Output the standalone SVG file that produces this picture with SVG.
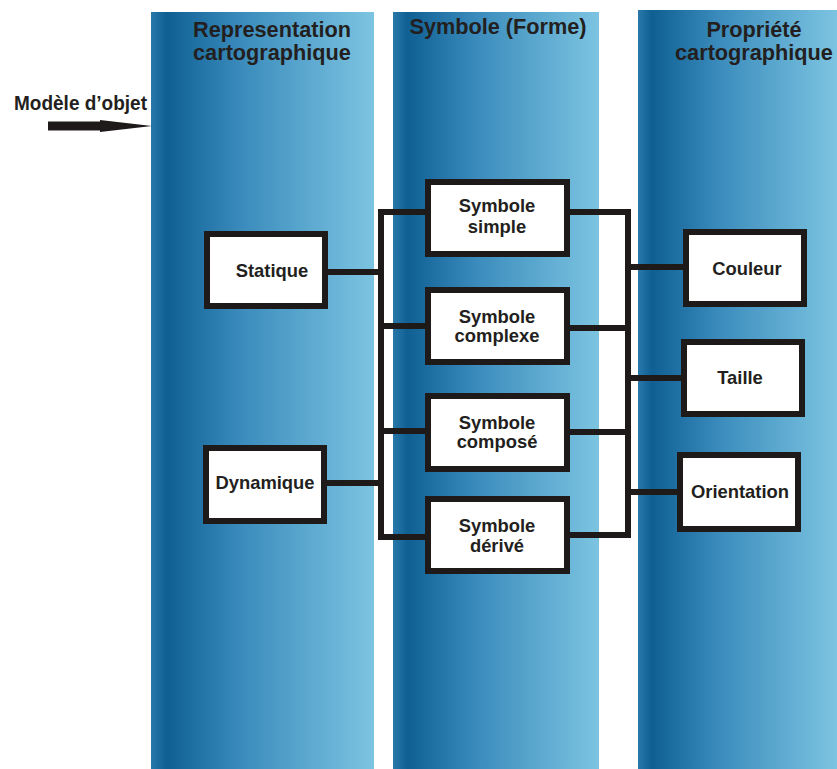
<svg xmlns="http://www.w3.org/2000/svg" width="837" height="769" viewBox="0 0 837 769">
<defs>
<linearGradient id="colg" x1="0" y1="0" x2="1" y2="0">
<stop offset="0" stop-color="#2a78aa"/>
<stop offset="0.07" stop-color="#0f5f93"/>
<stop offset="0.4" stop-color="#3a8bbc"/>
<stop offset="1" stop-color="#7cc4e1"/>
</linearGradient>
<style>
.col{fill:url(#colg)}
.box{fill:#ffffff;stroke:#1e1a1a;stroke-width:6}
.ln{fill:none;stroke:#1e1a1a;stroke-width:6}
.t{font-family:"Liberation Sans",Arial,sans-serif;font-weight:bold;fill:#231f20;text-anchor:middle}
.h{font-size:21.7px}
.n{font-size:18.4px}
</style>
</defs>
<rect width="837" height="769" fill="#ffffff"/>
<g id="columns">
<rect class="col" x="151" y="12" width="223" height="757"/>
<rect class="col" x="393" y="12" width="206" height="757"/>
<rect class="col" x="638" y="10" width="199" height="759"/>
</g>
<g id="headers">
<text class="t h" x="272" y="37">Representation</text>
<text class="t h" x="272" y="60">cartographique</text>
<text class="t h" x="498" y="34">Symbole (Forme)</text>
<text class="t h" x="754" y="37">Propriété</text>
<text class="t h" x="754" y="60">cartographique</text>
</g>
<g id="input">
<text class="t" style="font-size:20px;text-anchor:start" x="14" y="110" textLength="133" lengthAdjust="spacingAndGlyphs">Modèle d’objet</text>
<polygon fill="#1e1a1a" points="48,121.5 100,121.5 100,120 152,126 100,132 100,130.5 48,130.5"/>
</g>
<g id="connectors">
<polyline class="ln" points="428,212 381,212 381,537 428,537"/>
<line class="ln" x1="381" y1="326" x2="428" y2="326"/>
<line class="ln" x1="381" y1="431" x2="428" y2="431"/>
<line class="ln" x1="327" y1="272" x2="381" y2="272"/>
<line class="ln" x1="327" y1="483" x2="381" y2="483"/>
<polyline class="ln" points="567,212 628,212 628,535 567,535"/>
<line class="ln" x1="567" y1="328" x2="628" y2="328"/>
<line class="ln" x1="567" y1="432" x2="628" y2="432"/>
<line class="ln" x1="628" y1="267" x2="686" y2="267"/>
<line class="ln" x1="628" y1="378" x2="684" y2="378"/>
<line class="ln" x1="628" y1="492" x2="680" y2="492"/>
</g>
<g id="statique"><rect class="box" x="207" y="234" width="118" height="72"/><text class="t n" x="272" y="277">Statique</text></g>
<g id="dynamique"><rect class="box" x="206" y="448" width="118" height="73"/><text class="t n" x="265" y="489">Dynamique</text></g>
<g id="symbole-simple"><rect class="box" x="428" y="182" width="139" height="72"/><text class="t n" x="497" y="212">Symbole</text><text class="t n" x="497" y="233">simple</text></g>
<g id="symbole-complexe"><rect class="box" x="428" y="290" width="139" height="72"/><text class="t n" x="497" y="323">Symbole</text><text class="t n" x="497" y="342">complexe</text></g>
<g id="symbole-compose"><rect class="box" x="428" y="396" width="139" height="73"/><text class="t n" x="497" y="429">Symbole</text><text class="t n" x="497" y="448">composé</text></g>
<g id="symbole-derive"><rect class="box" x="428" y="499" width="139" height="72"/><text class="t n" x="497" y="532">Symbole</text><text class="t n" x="497" y="552">dérivé</text></g>
<g id="couleur"><rect class="box" x="686" y="232" width="118" height="72"/><text class="t n" x="747" y="275">Couleur</text></g>
<g id="taille"><rect class="box" x="684" y="342" width="118" height="72"/><text class="t n" x="740" y="384">Taille</text></g>
<g id="orientation"><rect class="box" x="680" y="455" width="118" height="74"/><text class="t n" x="740" y="498">Orientation</text></g>
</svg>
